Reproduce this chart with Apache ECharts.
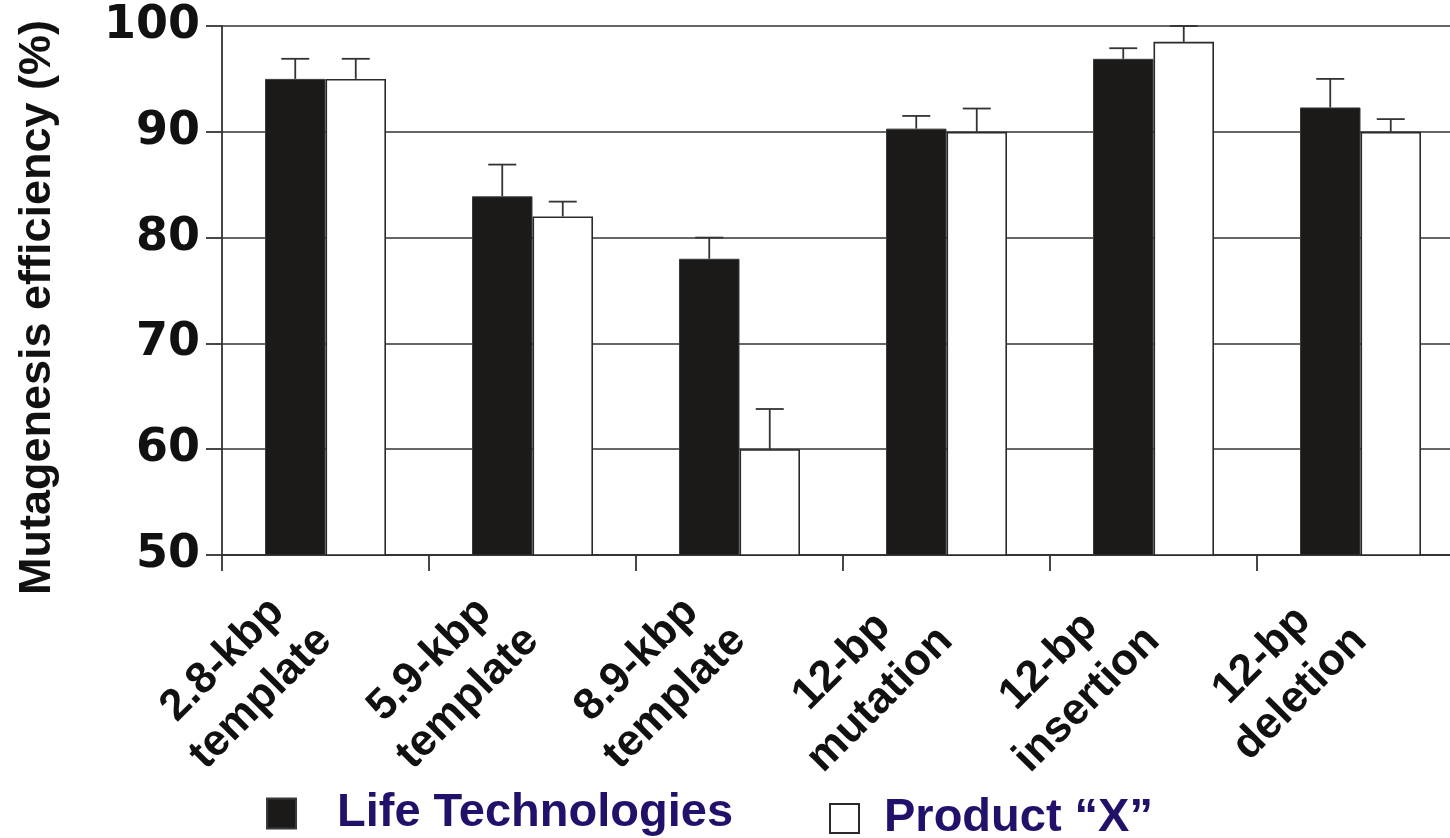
<!DOCTYPE html>
<html>
<head>
<meta charset="utf-8">
<script src="https://cdn.jsdelivr.net/npm/echarts@6/dist/echarts.min.js"></script>
<style>
  html, body { margin: 0; padding: 0; background: #fff; }
  #chart { width: 1450px; height: 838px; }
</style>
</head>
<body>
<div id="chart"></div>
<script>
// Mutagenesis efficiency by template / mutation type
const categories = [
  '2.8-kbp\ntemplate',
  '5.9-kbp\ntemplate',
  '8.9-kbp\ntemplate',
  '12-bp\nmutation',
  '12-bp\ninsertion',
  '12-bp\ndeletion'
];
const seriesNames = ['Life Technologies', 'Product \u201cX\u201d'];
const lifeTech    = [95.0, 83.9, 78.0, 90.3, 96.9, 92.3];
const lifeTechErr = [1.9, 3.0, 2.0, 1.2, 1.0, 2.7];
const productX    = [95.0, 82.0, 60.0, 90.0, 98.5, 90.0];
const productXErr = [1.9, 1.4, 3.8, 2.2, 1.5, 1.2];
const yTicks = { min: 50, max: 100, step: 10 };

const BAR_W = 60.5;
const TEXT = '#111';
const LINE = '#333';
const LEGEND_TEXT = '#22106a';
const SANS = '"Liberation Sans", Arial, sans-serif';

function errorSeries(values, errs, offset) {
  return {
    type: 'custom',
    z: 5,
    clip: false,
    silent: true,
    data: values.map((v, i) => [i, v, errs[i]]),
    encode: { x: 0, y: 1 },
    renderItem: function (params, api) {
      const i = api.value(0);
      const v = api.value(1);
      const e = api.value(2);
      const base = api.coord([i, v]);
      const top = api.coord([i, v + e]);
      const x = base[0] + offset;
      const style = { stroke: LINE, lineWidth: 1.8 };
      return {
        type: 'group',
        children: [
          { type: 'line', shape: { x1: x, y1: base[1], x2: x, y2: top[1] }, style: style },
          { type: 'line', shape: { x1: x - 14, y1: top[1], x2: x + 14, y2: top[1] }, style: style }
        ]
      };
    }
  };
}

const chart = echarts.init(document.getElementById('chart'), null, { renderer: 'canvas' });

chart.setOption({
  backgroundColor: '#fff',
  animation: false,
  grid: {
    left: 222,
    top: 26,
    width: 1242,
    height: 529,
    containLabel: false,
    outerBoundsMode: 'none'
  },
  legend: [
    {
      data: [seriesNames[0]],
      left: 266,
      top: 790,
      padding: 0,
      itemWidth: 29,
      itemHeight: 30,
      icon: 'rect',
      selectedMode: false,
      textStyle: {
        fontFamily: SANS, fontWeight: 'bold', fontSize: 47, color: LEGEND_TEXT,
        padding: [0, 0, 0, 36]
      }
    },
    {
      data: [seriesNames[1]],
      left: 829,
      top: 795,
      padding: 0,
      itemWidth: 29,
      itemHeight: 29,
      icon: 'rect',
      selectedMode: false,
      textStyle: {
        fontFamily: SANS, fontWeight: 'bold', fontSize: 47, color: LEGEND_TEXT,
        padding: [0, 0, 0, 20]
      }
    }
  ],
  xAxis: {
    type: 'category',
    data: categories,
    boundaryGap: true,
    axisLine: { show: true, lineStyle: { color: LINE, width: 1.8 } },
    axisTick: { show: true, inside: false, length: 16, interval: 0, lineStyle: { color: LINE, width: 1.8 } },
    splitLine: { show: false },
    axisLabel: {
      interval: 0,
      rotate: 45,
      margin: 40,
      padding: [0, 28, 0, 0],
      formatter: function (value) {
        return value.split('\n').map(s => '{c|' + s + '}').join('\n');
      },
      rich: {
        c: {
          align: 'center',
          fontFamily: SANS,
          fontWeight: 'bold',
          fontSize: 44,
          lineHeight: 54,
          color: TEXT
        }
      }
    }
  },
  yAxis: {
    type: 'value',
    min: yTicks.min,
    max: yTicks.max,
    interval: yTicks.step,
    name: 'Mutagenesis efficiency (%)',
    nameLocation: 'middle',
    nameGap: 162,
    nameTextStyle: {
      fontFamily: SANS,
      fontWeight: 'bold',
      fontSize: 45,
      color: TEXT,
      padding: [0, 34, 0, 0]
    },
    axisLine: { show: true, lineStyle: { color: LINE, width: 1.8 } },
    axisTick: { show: true, inside: false, length: 16, lineStyle: { color: LINE, width: 1.8 } },
    splitLine: { show: true, lineStyle: { color: LINE, width: 1.6 } },
    axisLabel: {
      margin: 22,
      fontFamily: '"DejaVu Sans", sans-serif',
      fontWeight: 'bold',
      fontSize: 46,
      color: TEXT
    }
  },
  series: [
    {
      name: seriesNames[0],
      type: 'bar',
      data: lifeTech,
      barWidth: BAR_W,
      barGap: '0%',
      itemStyle: { color: '#1c1919', borderColor: '#3a3a3a', borderWidth: 1 }
    },
    {
      name: seriesNames[1],
      type: 'bar',
      data: productX,
      barWidth: BAR_W,
      barGap: '0%',
      itemStyle: { color: '#ffffff', borderColor: '#2a2a2a', borderWidth: 1.6 }
    },
    errorSeries(lifeTech, lifeTechErr, -BAR_W / 2),
    errorSeries(productX, productXErr, BAR_W / 2)
  ]
});
</script>
</body>
</html>
